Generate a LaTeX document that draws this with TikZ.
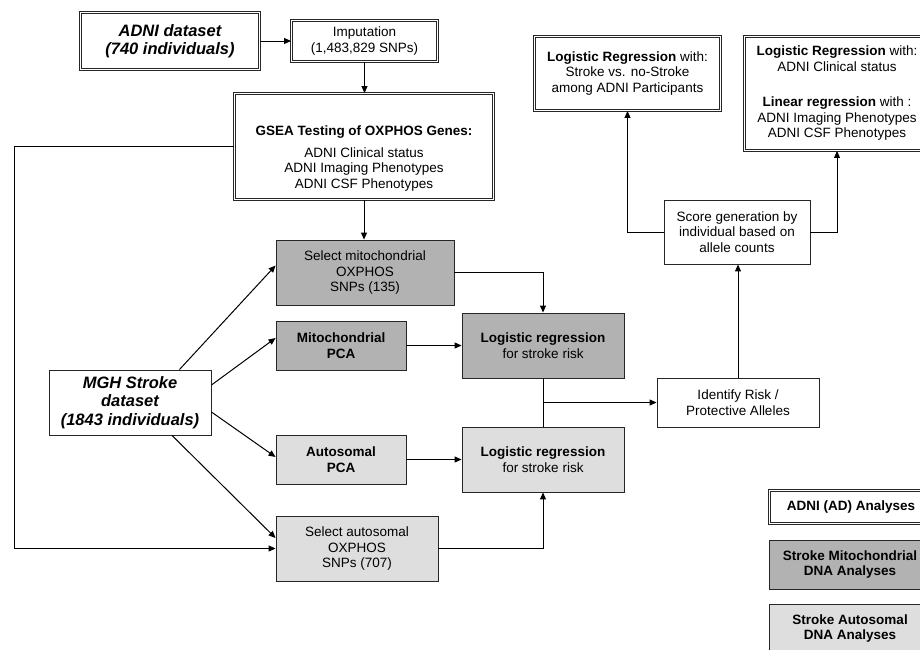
\documentclass[tikz,border=0pt]{standalone}
\usepackage{fontspec}
\setmainfont{Liberation Sans}
\usetikzlibrary{arrows.meta,positioning,calc}
\definecolor{mitogray}{gray}{0.70}
\definecolor{autogray}{gray}{0.87}

\begin{document}
\begin{tikzpicture}[
  x=1pt, y=-1pt, line width=1pt,
  base/.style={rectangle, draw=black!85, line width=0.9pt, align=center,
               inner sep=2pt, font=\fontsize{13.5}{15.5}\selectfont},
  adnibox/.style={base, double, double distance=1.6pt, fill=white},
  plainbox/.style={base, fill=white},
  mitobox/.style={base, fill=mitogray},
  autobox/.style={base, fill=autogray},
  bigtext/.style={font=\fontsize{16.5}{18.5}\selectfont\bfseries\itshape},
  legtext/.style={font=\fontsize{13.5}{15.5}\selectfont\bfseries},
  arr/.style={-{Triangle[length=7pt, width=6pt]}, line width=1pt},
]
  \useasboundingbox (0,0) rectangle (920,649);

  % ADNI branch
  \node[adnibox, bigtext, minimum width=179pt, minimum height=57pt] (adni) at (170,41)
    {ADNI dataset\\(740 individuals)};
  \node[adnibox, minimum width=146pt, minimum height=41pt] (imp) at (364.5,41)
    {Imputation\\(1,483,829 SNPs)};
  \node[adnibox, minimum width=259pt, minimum height=106pt] (gsea) at (364,146.5)
    {\rule{0pt}{34pt}\textbf{GSEA Testing of OXPHOS Genes:}\\[6pt]ADNI Clinical status\\ADNI Imaging Phenotypes\\ADNI CSF Phenotypes};

  % stroke branch
  \node[mitobox, minimum width=178pt, minimum height=65pt] (selm) at (365,272.5)
    {Select mitochondrial\\OXPHOS\\SNPs (135)};
  \node[mitobox, minimum width=130pt, minimum height=49pt] (mpca) at (341,345.5)
    {\textbf{Mitochondrial}\\\textbf{PCA}};
  \node[plainbox, bigtext, minimum width=162pt, minimum height=65pt] (mgh) at (130,402.5)
    {MGH Stroke\\dataset\\(1843 individuals)};
  \node[autobox, minimum width=130pt, minimum height=49pt] (apca) at (341,459.5)
    {\textbf{Autosomal}\\\textbf{PCA}};
  \node[autobox, minimum width=162pt, minimum height=65pt] (sela) at (357,548.5)
    {Select autosomal\\OXPHOS\\SNPs (707)};
  \node[mitobox, minimum width=162pt, minimum height=65pt] (lrm) at (543,345.5)
    {\textbf{Logistic regression}\\for stroke risk};
  \node[autobox, minimum width=162pt, minimum height=65pt] (lra) at (543,459.5)
    {\textbf{Logistic regression}\\for stroke risk};

  % scores
  \node[plainbox, minimum width=162pt, minimum height=49pt] (iden) at (738,402.5)
    {Identify Risk /\\Protective Alleles};
  \node[plainbox, minimum width=146pt, minimum height=64pt] (score) at (737,232)
    {Score generation by\\individual based on\\allele counts};
  \node[adnibox, minimum width=186pt, minimum height=74pt] (lr1) at (627.5,73.5)
    {\textbf{Logistic Regression} with:\\Stroke vs. no-Stroke\\among ADNI Participants};
  \node[adnibox, minimum width=185pt, minimum height=114pt] (lr2) at (837,93.5)
    {\textbf{Logistic Regression} with:\\ADNI Clinical status\\[20pt]\textbf{Linear regression} with :\\ADNI Imaging Phenotypes\\ADNI CSF Phenotypes};

  % legend
  \node[adnibox, legtext, minimum width=163pt, minimum height=33pt] (leg1) at (851,507)
    {ADNI (AD) Analyses};
  \node[mitobox, legtext, minimum width=162pt, minimum height=49pt] (leg2) at (850,564.5)
    {Stroke Mitochondrial\\DNA Analyses};
  \node[autobox, legtext, minimum width=162pt, minimum height=49pt] (leg3) at (850,628.5)
    {Stroke Autosomal\\DNA Analyses};

  % connectors
  \draw[arr] (adni) -- (imp);
  \draw[arr] (imp.south) -- (imp.south |- gsea.north);
  \draw[arr] (gsea.west) -- ++(-220,0) |- (sela.west);
  \draw[arr] (gsea.south) -- (gsea.south |- selm.north);
  \draw[arr] ([xshift=-32pt]mgh.north east) -- ([yshift=7pt]selm.west);
  \draw[arr] ([yshift=17.5pt]mgh.east) -- ([yshift=7.5pt]mpca.west);
  \draw[arr] ([yshift=-9.5pt]mgh.east) -- ([yshift=2.5pt]apca.west);
  \draw[arr] ([xshift=42pt]mgh.south) -- ([yshift=10.5pt]sela.west);
  \draw[arr] (selm.east) -| (lrm.north);
  \draw[arr] (mpca) -- (lrm);
  \draw[arr] (apca) -- (lra);
  \draw[arr] (sela.east) -| (lra.south);
  \draw (lrm.south) -- (lra.north);
  \draw[arr] (lrm.south |- iden.west) -- (iden.west);
  \draw[arr] (iden.north) -- (iden.north |- score.south);
  \draw[arr] (score.west) -| (lr1.south);
  \draw[arr] (score.east) -| (lr2.south);
\end{tikzpicture}
\end{document}
